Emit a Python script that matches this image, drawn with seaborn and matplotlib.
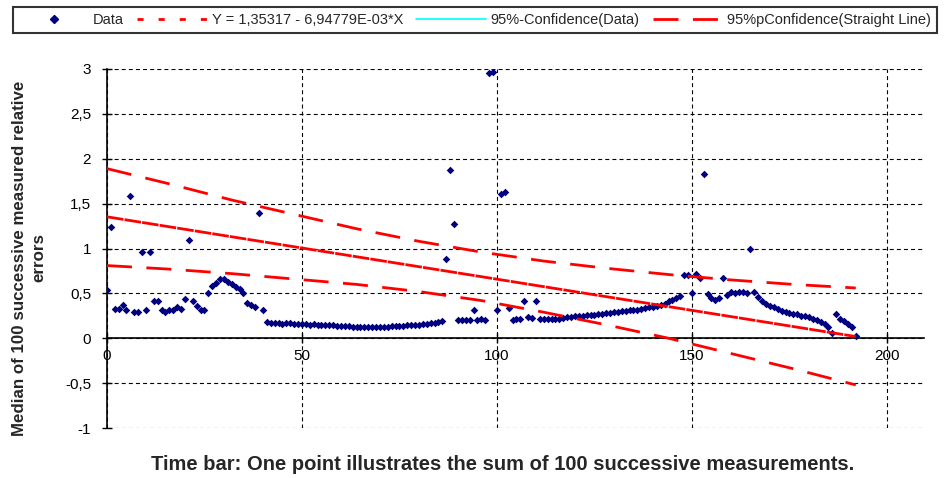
import numpy as np
import pandas as pd
import matplotlib
matplotlib.use('Agg')
import matplotlib.pyplot as plt
from matplotlib.lines import Line2D
import seaborn as sns

median_err = [
    0.54, 1.24, 0.33, 0.33, 0.37, 0.31, 1.59, 0.29, 0.29, 0.96,
    0.32, 0.96, 0.41, 0.41, 0.31, 0.29, 0.31, 0.32, 0.35, 0.33,
    0.44, 1.10, 0.42, 0.36, 0.32, 0.31, 0.50, 0.58, 0.62, 0.66,
    0.66, 0.63, 0.60, 0.57, 0.55, 0.50, 0.39, 0.37, 0.35, 1.40,
    0.32, 0.18, 0.17, 0.17, 0.17, 0.16, 0.17, 0.17, 0.16, 0.16,
    0.16, 0.16, 0.15, 0.16, 0.15, 0.15, 0.15, 0.15, 0.15, 0.14,
    0.14, 0.14, 0.14, 0.13, 0.13, 0.13, 0.12, 0.12, 0.12, 0.12,
    0.13, 0.13, 0.13, 0.14, 0.14, 0.14, 0.14, 0.15, 0.15, 0.15,
    0.15, 0.16, 0.16, 0.17, 0.17, 0.18, 0.19, 0.88, 1.88, 1.27,
    0.20, 0.20, 0.20, 0.20, 0.32, 0.20, 0.21, 0.20, 2.95, 2.97,
    0.32, 1.61, 1.63, 0.34, 0.20, 0.21, 0.22, 0.42, 0.24, 0.23,
    0.41, 0.22, 0.22, 0.21, 0.21, 0.22, 0.22, 0.23, 0.24, 0.24,
    0.25, 0.25, 0.25, 0.26, 0.26, 0.26, 0.27, 0.27, 0.28, 0.28,
    0.29, 0.29, 0.30, 0.30, 0.31, 0.31, 0.32, 0.33, 0.34, 0.35,
    0.35, 0.36, 0.37, 0.38, 0.41, 0.43, 0.45, 0.47, 0.70, 0.70,
    0.50, 0.72, 0.67, 1.83, 0.49, 0.45, 0.43, 0.45, 0.67, 0.48,
    0.52, 0.50, 0.51, 0.51, 0.50, 0.99, 0.51, 0.46, 0.42, 0.38,
    0.36, 0.35, 0.33, 0.30, 0.29, 0.28, 0.27, 0.27, 0.25, 0.25,
    0.24, 0.22, 0.20, 0.18, 0.16, 0.12, 0.06, 0.27, 0.21, 0.19,
    0.16, 0.13, 0.03,
]

# Reta de regressão (extremos)
fit_x = [0, 192]
fit_y = [1.353, 0.019]

# Faixa de confiança de 95% da reta
band_x = [0, 16, 32, 48, 64, 80, 96, 112, 128, 144, 160, 176, 192]
band_upper = [1.89, 1.72, 1.54, 1.38, 1.22, 1.08, 0.96, 0.86, 0.78, 0.71, 0.65, 0.60, 0.56]
band_lower = [0.81, 0.77, 0.72, 0.66, 0.60, 0.52, 0.42, 0.29, 0.15, 0.00, -0.17, -0.34, -0.52]

x_ticks = [0, 50, 100, 150, 200]
y_ticks = [-1, -0.5, 0, 0.5, 1, 1.5, 2, 2.5, 3]
y_tick_labels = ['-1', '-0,5', '0', '0,5', '1', '1,5', '2', '2,5', '3']

legend_labels = ['Data', 'Y = 1,35317 - 6,94779E-03*X',
                 '95%-Confidence(Data)', '95%pConfidence(Straight Line)']

navy = '#000080'

sns.set_theme(style='white')
plt.rcParams['font.family'] = ['Liberation Sans', 'DejaVu Sans']

fig = plt.figure(figsize=(9.5, 4.78), dpi=100)
ax = fig.add_axes([107 / 950, 1 - 428 / 478, (924 - 107) / 950, (428 - 69) / 478])

df = pd.DataFrame({'x': np.arange(len(median_err)), 'y': median_err})
sns.scatterplot(data=df, x='x', y='y', marker='D', s=15, color=navy,
                edgecolor=navy, linewidth=0, ax=ax, zorder=3, legend=False)

ax.plot(fit_x, fit_y, color='red', lw=2, linestyle=(0, (6, 0.4)), zorder=4)
ax.plot(band_x, band_upper, color='red', lw=2, linestyle=(0, (9, 5.2)), zorder=4)
ax.plot(band_x, band_lower, color='red', lw=2, linestyle=(0, (9, 5.2)), zorder=4)

ax.set_xlim(0, 209.5)
ax.set_ylim(-1, 3)
ax.set_xticks(x_ticks)
ax.set_yticks(y_ticks)
ax.set_yticklabels(y_tick_labels)
ax.set_xlabel('')
ax.set_ylabel('')

ax.spines['bottom'].set_position(('data', 0))
ax.spines['top'].set_visible(False)
ax.spines['right'].set_visible(False)
for side in ['left', 'bottom']:
    ax.spines[side].set_color('black')
    ax.spines[side].set_linewidth(1.2)

ax.grid(True, color='black', linestyle=(0, (3.6, 2.8)), linewidth=0.8)
ax.set_axisbelow(True)
ax.tick_params(axis='both', direction='inout', length=7, width=1, colors='black',
               labelsize=11, left=True, bottom=True)
ax.tick_params(axis='y', pad=8)
ax.tick_params(axis='x', pad=4.5)

handles = [
    Line2D([], [], marker='D', color=navy, linestyle='None', markersize=4.0),
    Line2D([], [], color='red', lw=2, linestyle=(0, (2.2, 5.4))),
    Line2D([], [], color='cyan', lw=1.2),
    Line2D([], [], color='red', lw=2, linestyle=(0, (9, 5.2))),
]
leg = fig.legend(handles, legend_labels, ncol=4, loc='upper left',
                 bbox_to_anchor=(13 / 950, 1 - 7 / 478), borderaxespad=0,
                 fontsize=10.5, handlelength=4.8, handletextpad=0.3,
                 columnspacing=0.9, borderpad=0.4, numpoints=1,
                 frameon=True, fancybox=False)
leg.get_frame().set_edgecolor('black')
leg.get_frame().set_linewidth(1.5)

fig.text(29 / 950, 1 - 258 / 478, 'Median of 100 successive measured relative\nerrors',
         rotation=90, ha='center', va='center', fontweight='bold', fontsize=12.2,
         linespacing=1.35, multialignment='center')
fig.text(503 / 950, 1 - 465 / 478,
         'Time bar: One point illustrates the sum of 100 successive measurements.',
         ha='center', va='center', fontweight='bold', fontsize=14.5)

fig.savefig('out.png', dpi=100)
